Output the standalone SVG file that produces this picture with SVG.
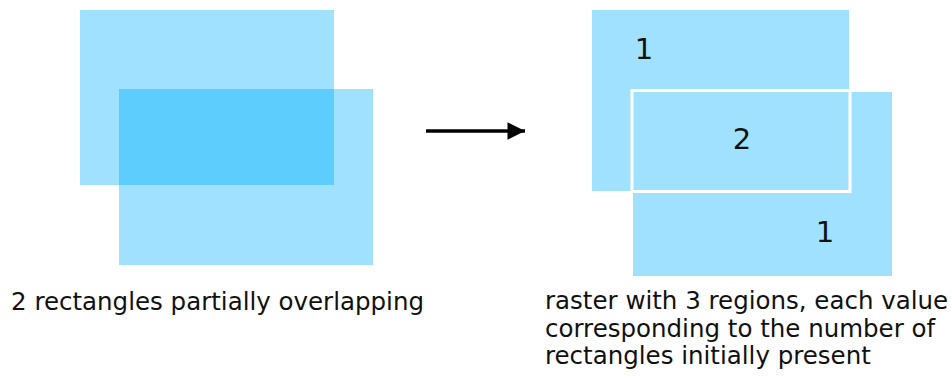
<svg xmlns="http://www.w3.org/2000/svg" width="951" height="376" viewBox="0 0 951 376">
<style>
.lt{fill:#a0e1ff}
.ov{fill:#5ccdfd}
.t{font-family:"DejaVu Sans",sans-serif;font-size:24.5px;fill:#111}
.n{font-family:"DejaVu Sans",sans-serif;font-size:29px;fill:#111}
</style>
<defs>
<marker id="ah" viewBox="0 0 10 10" refX="10" refY="5" markerWidth="6" markerHeight="5" markerUnits="strokeWidth" orient="auto">
<path d="M0,0 L10,5 L0,10 z" fill="#000"/>
</marker>
</defs>
<rect width="951" height="376" fill="#fff"/>
<g id="left-input">
<rect class="lt" x="80" y="10" width="254" height="175"/>
<rect class="lt" x="119" y="89" width="254" height="176"/>
<rect class="ov" x="119" y="89" width="215" height="96"/>
<text class="t" x="11" y="310">2 rectangles partially overlapping</text>
</g>
<g id="connectors">
<line x1="426" y1="131" x2="525" y2="131" stroke="#000" stroke-width="3.5" marker-end="url(#ah)"/>
</g>
<g id="right-raster">
<rect class="lt" x="592" y="10" width="257" height="181"/>
<rect class="lt" x="633" y="92" width="259" height="184"/>
<rect x="632" y="90.5" width="218" height="101" fill="none" stroke="#fff" stroke-width="3"/>
<text class="n" x="644" y="59" text-anchor="middle">1</text>
<text class="n" x="742" y="149" text-anchor="middle">2</text>
<text class="n" x="825" y="242" text-anchor="middle">1</text>
<text class="t" x="545" y="309">raster with 3 regions, each value</text>
<text class="t" x="545" y="336.5">corresponding to the number of</text>
<text class="t" x="545" y="364">rectangles initially present</text>
</g>
</svg>
